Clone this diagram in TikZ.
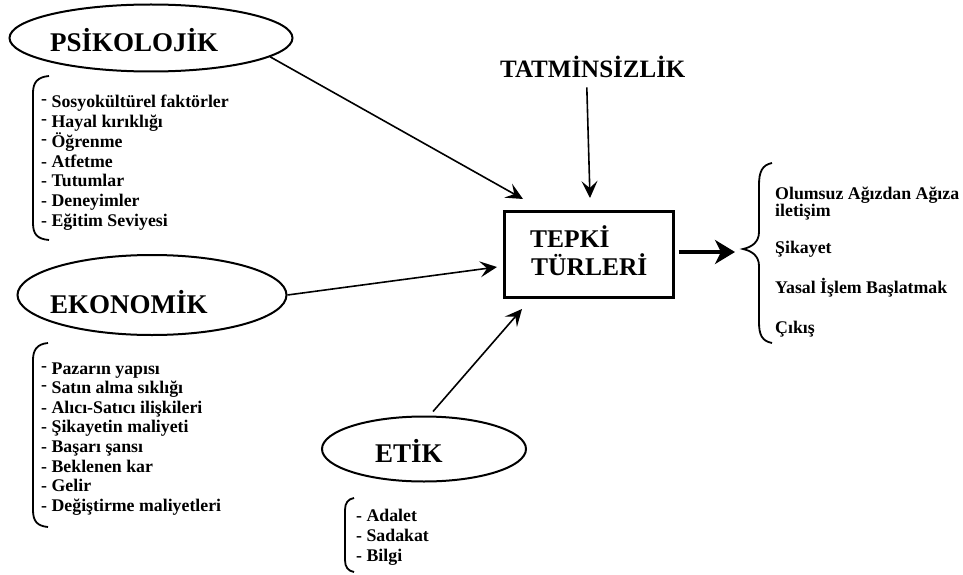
\documentclass[tikz,border=0pt]{standalone}
\usepackage{fontspec}
\newfontfamily\tnrb{LiberationSerif-Bold.ttf}
\usetikzlibrary{shapes.geometric,arrows.meta,calc}
\newcommand{\dd}{-\hspace{4.5pt}}
\newcommand{\ud}{\raisebox{3pt}{-}\hspace{4.5pt}}
\tikzset{
  ell/.style={ellipse,draw,line width=2pt,inner sep=0pt},
  ttl/.style={anchor=base west,inner sep=0pt,font=\tnrb\fontsize{27}{27}\selectfont},
  itm/.style={anchor=base west,inner sep=0pt,font=\tnrb\fontsize{17.8}{17.8}\selectfont},
  brk/.style={line width=1.8pt},
  arr/.style={line width=1.6pt,-{Stealth[length=17pt,width=16pt,inset=7pt]}},
  bigarr/.style={line width=4.5pt,-{Stealth[length=20pt,width=24pt,inset=6pt]}},
  tbox/.style={draw,line width=3pt,inner sep=0pt,minimum width=169pt,minimum height=86pt}
}
\begin{document}
\begin{tikzpicture}[x=1pt,y=-1pt]
\useasboundingbox (0,0) rectangle (963,575);
% Psikolojik
\node[ell,minimum width=283pt,minimum height=67pt] (psi) at (151,38) {};
\node[ttl] (psiT) at (50,52) {PSİKOLOJİK};
\draw[brk] (49,76) .. controls (37,77) and (33,83) .. (33,93) -- (33,223) .. controls (33,234) and (37,239) .. (49,240);
\node[itm] (p1) at (41,108) {\ud Sosyokültürel faktörler};
\node[itm] (p2) at (41,127.7) {\ud Hayal kırıklığı};
\node[itm] (p3) at (41,147.4) {\ud Öğrenme};
\node[itm] (p4) at (41,167.1) {\dd Atfetme};
\node[itm] (p5) at (41,186.8) {\dd Tutumlar};
\node[itm] (p6) at (41,206.5) {\dd Deneyimler};
\node[itm] (p7) at (41,226.2) {\dd Eğitim Seviyesi};
% Ekonomik
\node[ell,minimum width=269pt,minimum height=80pt] (eko) at (152,295) {};
\node[ttl] (ekoT) at (50,313) {EKONOMİK};
\draw[brk] (48,343) .. controls (37,344) and (33,350) .. (33,360) -- (33,510) .. controls (33,521) and (37,526) .. (48,527);
\node[itm] (e1) at (41,374) {\ud Pazarın yapısı};
\node[itm] (e2) at (41,393.6) {\ud Satın alma sıklığı};
\node[itm] (e3) at (41,413.2) {\dd Alıcı-Satıcı ilişkileri};
\node[itm] (e4) at (41,432.8) {\dd Şikayetin maliyeti};
\node[itm] (e5) at (41,452.4) {\dd Başarı şansı};
\node[itm] (e6) at (41,472) {\dd Beklenen kar};
\node[itm] (e7) at (41,491.6) {\dd Gelir};
\node[itm] (e8) at (41,511.2) {\dd Değiştirme maliyetleri};
% Etik
\node[ell,minimum width=204pt,minimum height=65pt] (etik) at (424,449) {};
\node[ttl] (etikT) at (375,462) {ETİK};
\draw[brk] (354,498) .. controls (348,499) and (345,503) .. (345,510) -- (345,560) .. controls (345,567) and (348,571) .. (354,572);
\node[itm] (k1) at (356,521) {- Adalet};
\node[itm] (k2) at (356,541) {- Sadakat};
\node[itm] (k3) at (356,561) {- Bilgi};
% Tatminsizlik
\node[anchor=base west,inner sep=0pt,font=\tnrb\fontsize{25}{25}\selectfont] (tat) at (500,78) {TATMİNSİZLİK};
% Box
\node[tbox] (box) at (588.5,254) {};
\node[anchor=base west,inner sep=0pt,font=\tnrb\fontsize{25.5}{25.5}\selectfont] (bt1) at (530,247) {TEPKİ};
\node[anchor=base west,inner sep=0pt,font=\tnrb\fontsize{25.5}{25.5}\selectfont] (bt2) at (531,275) {TÜRLERİ};
% Arrows
\coordinate (t1) at (523,199);
\coordinate (t2) at (497,267);
\coordinate (t3) at (522,309);
\coordinate (t4) at (590,198);
\coordinate (t5) at (735,252);
\draw[arr] (psi.-9) -- (t1);
\draw[arr] (eko.east) -- (t2);
\draw[arr] ($(etik.north)+(9,-4)$) -- (t3);
\draw[arr] ($(tat.south)+(-6,9)$) -- (t4);
\draw[bigarr] ($(box.east)+(4,-2)$) -- (t5);
% Brace
\draw[line width=1.8pt] (772,163) .. controls (762,165) and (759,172) .. (759,185) -- (759,232) .. controls (759,242) and (752,247) .. (743,249) .. controls (752,251) and (759,256) .. (759,266) -- (759,322) .. controls (759,335) and (762,341) .. (772,343);
\node[itm] (r1) at (775,199) {Olumsuz Ağızdan Ağıza};
\node[itm] (r2) at (775,216) {iletişim};
\node[itm] (r3) at (775,253) {Şikayet};
\node[itm] (r4) at (775,293) {Yasal İşlem Başlatmak};
\node[itm] (r5) at (775,333) {Çıkış};
\end{tikzpicture}
\end{document}
